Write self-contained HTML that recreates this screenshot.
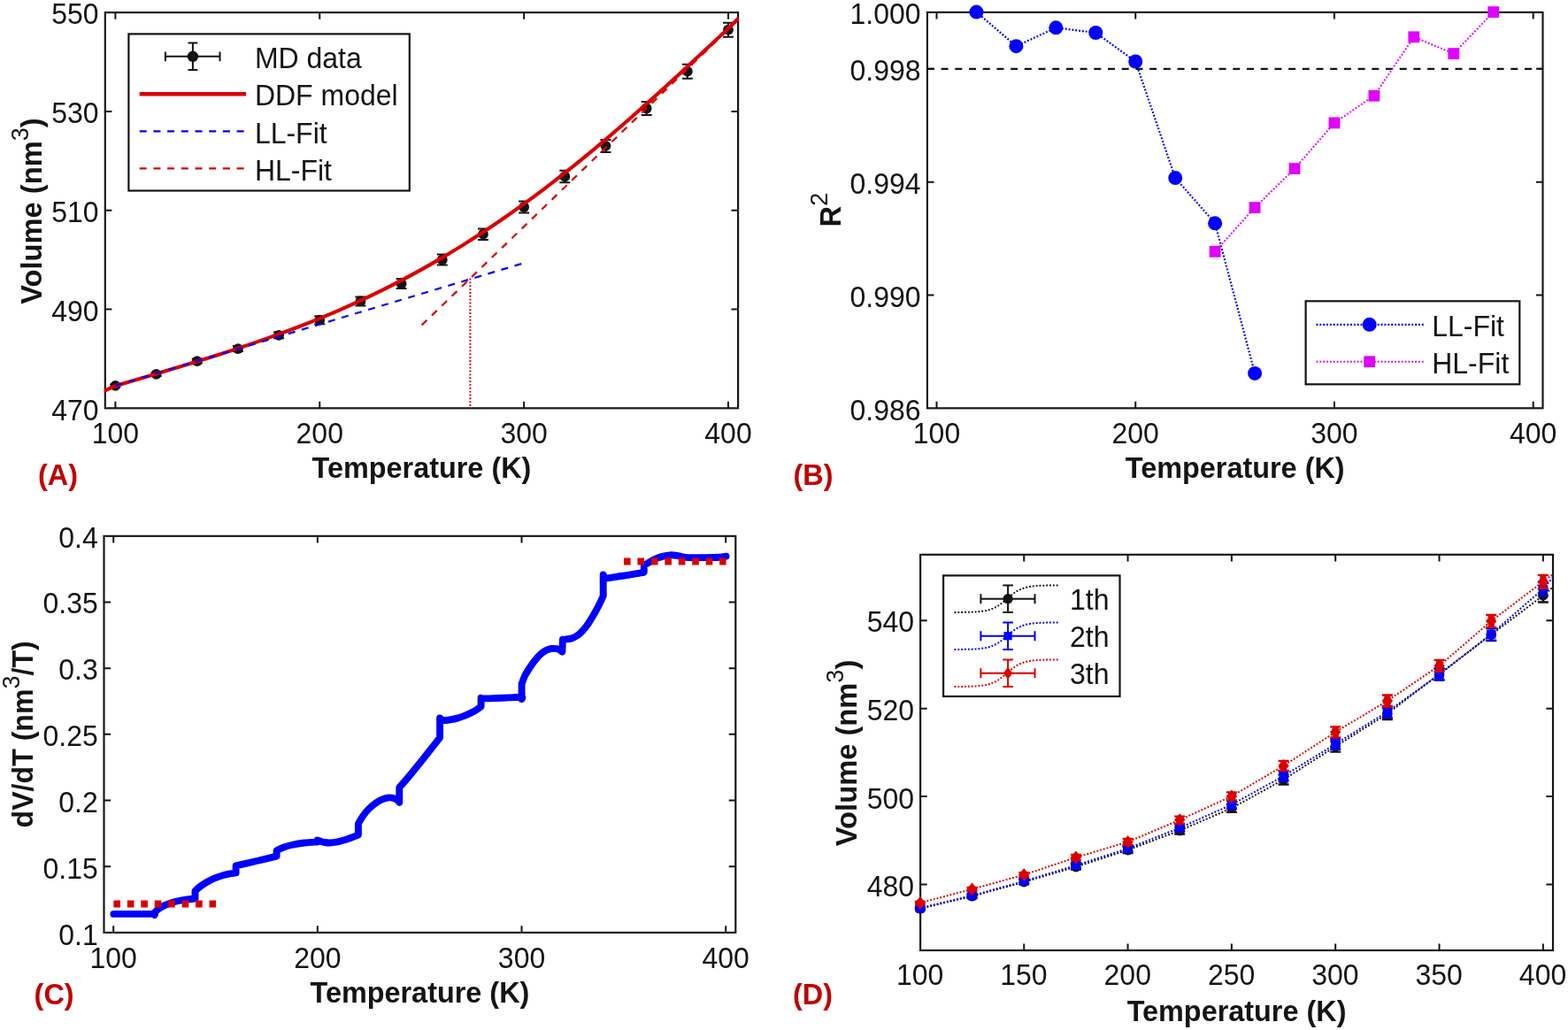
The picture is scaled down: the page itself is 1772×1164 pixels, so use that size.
<!DOCTYPE html>
<html lang="en">
<head>
<meta charset="utf-8">
<title>Volume vs temperature: MD data, DDF model and linear fits</title>
<style>
html,body{margin:0;padding:0;background:#fff;}
body{width:1772px;height:1164px;overflow:hidden;}
svg{display:block;font-family:'Liberation Sans', Arial, Helvetica, sans-serif;}
</style>
</head>
<body>
<svg width="1772" height="1164" viewBox="0 0 1772 1164">
<rect width="1772" height="1164" fill="#fff"/>
<g id="panelA">
<rect x="118.8" y="14.1" width="715.3" height="447.2" fill="none" stroke="#141414" stroke-width="2.15"/>
<path d="M130.4 461.3V453.7M130.4 14.1V21.7M361.27 461.3V453.7M361.27 14.1V21.7M592.14 461.3V453.7M592.14 14.1V21.7M823.01 461.3V453.7M823.01 14.1V21.7M118.8 349.5H126.4M834.1 349.5H826.5M118.8 237.7H126.4M834.1 237.7H826.5M118.8 125.9H126.4M834.1 125.9H826.5" fill="none" stroke="#141414" stroke-width="2.0"/>
<clipPath id="clipA"><rect x="117.6" y="12.9" width="717.7" height="449.6"/></clipPath>
<g clip-path="url(#clipA)">
<path d="M531.4 314.6V461.3" stroke="#db0000" stroke-width="2" stroke-dasharray="1.9 1.95" fill="none"/>
<path d="M130.4 434.3V437.3M124.4 434.3H136.4M124.4 437.3H136.4" fill="none" stroke="#141414" stroke-width="2.0"/>
<circle cx="130.4" cy="435.8" r="5.9" fill="#141414"/>
<path d="M176.57 420.9V424.9M170.57 420.9H182.57M170.57 424.9H182.57" fill="none" stroke="#141414" stroke-width="2.0"/>
<circle cx="176.57" cy="422.9" r="5.9" fill="#141414"/>
<path d="M222.75 405.6V410.6M216.75 405.6H228.75M216.75 410.6H228.75" fill="none" stroke="#141414" stroke-width="2.0"/>
<circle cx="222.75" cy="408.1" r="5.9" fill="#141414"/>
<path d="M268.92 391.1V397.1M262.92 391.1H274.92M262.92 397.1H274.92" fill="none" stroke="#141414" stroke-width="2.0"/>
<circle cx="268.92" cy="394.1" r="5.9" fill="#141414"/>
<path d="M315.1 375.3V382.3M309.1 375.3H321.1M309.1 382.3H321.1" fill="none" stroke="#141414" stroke-width="2.0"/>
<circle cx="315.1" cy="378.8" r="5.9" fill="#141414"/>
<path d="M361.27 357.2V366.2M355.27 357.2H367.27M355.27 366.2H367.27" fill="none" stroke="#141414" stroke-width="2.0"/>
<circle cx="361.27" cy="361.7" r="5.9" fill="#141414"/>
<path d="M407.44 335.4V345.4M401.44 335.4H413.44M401.44 345.4H413.44" fill="none" stroke="#141414" stroke-width="2.0"/>
<circle cx="407.44" cy="340.4" r="5.9" fill="#141414"/>
<path d="M453.62 315.1V326.1M447.62 315.1H459.62M447.62 326.1H459.62" fill="none" stroke="#141414" stroke-width="2.0"/>
<circle cx="453.62" cy="320.6" r="5.9" fill="#141414"/>
<path d="M499.79 287.5V299.5M493.79 287.5H505.79M493.79 299.5H505.79" fill="none" stroke="#141414" stroke-width="2.0"/>
<circle cx="499.79" cy="293.5" r="5.9" fill="#141414"/>
<path d="M545.97 258.4V271M539.97 258.4H551.97M539.97 271H551.97" fill="none" stroke="#141414" stroke-width="2.0"/>
<circle cx="545.97" cy="264.7" r="5.9" fill="#141414"/>
<path d="M592.14 227.5V240.5M586.14 227.5H598.14M586.14 240.5H598.14" fill="none" stroke="#141414" stroke-width="2.0"/>
<circle cx="592.14" cy="234" r="5.9" fill="#141414"/>
<path d="M638.31 192.7V206.3M632.31 192.7H644.31M632.31 206.3H644.31" fill="none" stroke="#141414" stroke-width="2.0"/>
<circle cx="638.31" cy="199.5" r="5.9" fill="#141414"/>
<path d="M684.49 157.9V171.9M678.49 157.9H690.49M678.49 171.9H690.49" fill="none" stroke="#141414" stroke-width="2.0"/>
<circle cx="684.49" cy="164.9" r="5.9" fill="#141414"/>
<path d="M730.66 115V130M724.66 115H736.66M724.66 130H736.66" fill="none" stroke="#141414" stroke-width="2.0"/>
<circle cx="730.66" cy="122.5" r="5.9" fill="#141414"/>
<path d="M776.84 72.7V88.7M770.84 72.7H782.84M770.84 88.7H782.84" fill="none" stroke="#141414" stroke-width="2.0"/>
<circle cx="776.84" cy="80.7" r="5.9" fill="#141414"/>
<path d="M823.01 25.7V41.7M817.01 25.7H829.01M817.01 41.7H829.01" fill="none" stroke="#141414" stroke-width="2.0"/>
<circle cx="823.01" cy="33.7" r="5.9" fill="#141414"/>
<path d="M118 441.8C119.1 441.27 122.56 439.53 124.63 438.6C126.69 437.67 125.59 437.77 130.4 436.22C135.21 434.67 145.79 431.62 153.49 429.32C161.18 427.03 168.88 424.75 176.57 422.45C184.27 420.15 191.97 417.86 199.66 415.53C207.36 413.2 215.05 410.87 222.75 408.49C230.44 406.11 238.14 403.71 245.84 401.25C253.53 398.79 261.23 396.31 268.92 393.75C276.62 391.19 284.31 388.59 292.01 385.92C299.7 383.24 307.4 380.51 315.1 377.69C322.79 374.87 330.49 371.98 338.18 369C345.88 366.02 353.57 362.96 361.27 359.8C368.97 356.63 376.66 353.38 384.36 350.02C392.05 346.66 399.75 343.21 407.44 339.63C415.14 336.06 422.84 332.38 430.53 328.58C438.23 324.78 445.92 320.87 453.62 316.83C461.31 312.8 469.01 308.64 476.71 304.36C484.4 300.07 492.1 295.66 499.79 291.12C507.49 286.58 515.18 281.92 522.88 277.12C530.57 272.32 538.27 267.39 545.97 262.33C553.66 257.27 561.36 252.08 569.05 246.75C576.75 241.43 584.44 235.98 592.14 230.4C599.84 224.82 607.53 219.11 615.23 213.28C622.92 207.45 630.62 201.49 638.31 195.42C646.01 189.35 653.71 183.15 661.4 176.85C669.1 170.55 676.79 164.13 684.49 157.62C692.18 151.1 699.88 144.48 707.57 137.77C715.27 131.07 722.97 124.26 730.66 117.39C738.36 110.51 746.05 103.55 753.75 96.53C761.44 89.52 769.14 82.42 776.84 75.3C784.53 68.17 792.23 60.98 799.92 53.79C807.62 46.59 817.21 37.68 823.01 32.11C828.81 26.55 832.75 22.34 834.7 20.39" stroke="#db0000" stroke-width="4.1" fill="none" stroke-linecap="butt"/>
<path d="M130.4 435.8L592.14 297.2" stroke="#0000ff" stroke-width="2.2" stroke-dasharray="8 7.7" fill="none"/>
<path d="M476.71 367.36L834.1 22.62" stroke="#db0000" stroke-width="2.2" stroke-dasharray="8 7.7" fill="none"/>
</g>
<text transform="translate(130.4 500.7) scale(1 1.035)" text-anchor="middle" font-size="32" fill="#141414">100</text>
<text transform="translate(361.27 500.7) scale(1 1.035)" text-anchor="middle" font-size="32" fill="#141414">200</text>
<text transform="translate(592.14 500.7) scale(1 1.035)" text-anchor="middle" font-size="32" fill="#141414">300</text>
<text transform="translate(823.01 500.7) scale(1 1.035)" text-anchor="middle" font-size="32" fill="#141414">400</text>
<text transform="translate(111.6 475.1) scale(1 1.035)" text-anchor="end" font-size="32" fill="#141414">470</text>
<text transform="translate(111.6 363.05) scale(1 1.035)" text-anchor="end" font-size="32" fill="#141414">490</text>
<text transform="translate(111.6 251) scale(1 1.035)" text-anchor="end" font-size="32" fill="#141414">510</text>
<text transform="translate(111.6 138.95) scale(1 1.035)" text-anchor="end" font-size="32" fill="#141414">530</text>
<text transform="translate(111.6 26.9) scale(1 1.035)" text-anchor="end" font-size="32" fill="#141414">550</text>
<text transform="translate(476.45 540.3) scale(1 1.035)" text-anchor="middle" font-size="32.4" font-weight="bold" fill="#141414">Temperature (K)</text>
<text transform="translate(46.8 238.6) rotate(-90) scale(1 1.035)" text-anchor="middle" font-size="32.699999999999996" font-weight="bold" fill="#141414">Volume (nm<tspan dy="-14.5" font-size="27" font-weight="normal">3</tspan><tspan dy="14.5">)</tspan></text>
<text transform="translate(43 547.6) scale(1 1.035)" text-anchor="start" font-size="32.4" font-weight="bold" fill="#c00000">(A)</text>
<rect x="145.4" y="38.4" width="317.4" height="177.1" fill="#fff" stroke="#141414" stroke-width="2.2"/>
<path d="M186.9 63.8H248.5M186.9 58.4V69.2M248.5 58.4V69.2M217.9 48.6V78.9M212.5 48.6H223.3M212.5 78.9H223.3" stroke="#141414" stroke-width="2" fill="none"/>
<circle cx="217.9" cy="63.8" r="6.2" fill="#141414"/>
<path d="M157.7 106.3H278.1" stroke="#db0000" stroke-width="4.4" fill="none"/>
<path d="M157.7 148.4H276" stroke="#0000ff" stroke-width="2.2" stroke-dasharray="8 7.7" fill="none"/>
<path d="M157.7 190.3H276" stroke="#db0000" stroke-width="2.2" stroke-dasharray="8 7.7" fill="none"/>
<text transform="translate(287.9 76.9) scale(1 1.035)" text-anchor="start" font-size="32" fill="#141414">MD data</text>
<text transform="translate(287.9 119.2) scale(1 1.035)" text-anchor="start" font-size="32" fill="#141414">DDF model</text>
<text transform="translate(287.9 161.5) scale(1 1.035)" text-anchor="start" font-size="32" fill="#141414">LL-Fit</text>
<text transform="translate(287.9 203.8) scale(1 1.035)" text-anchor="start" font-size="32" fill="#141414">HL-Fit</text>
</g>
<g id="panelB">
<path d="M1047.9 77.81H1743.5" stroke="#141414" stroke-width="2.2" stroke-dasharray="8 7.7" fill="none"/>
<rect x="1047.9" y="13.9" width="695.6" height="447.4" fill="none" stroke="#141414" stroke-width="2.15"/>
<path d="M1058.5 461.3V453.7M1058.5 13.9V21.5M1283.23 461.3V453.7M1283.23 13.9V21.5M1507.96 461.3V453.7M1507.96 13.9V21.5M1732.69 461.3V453.7M1732.69 13.9V21.5M1047.9 333.47H1055.5M1743.5 333.47H1735.9M1047.9 205.64H1055.5M1743.5 205.64H1735.9M1047.9 77.81H1055.5M1743.5 77.81H1735.9" fill="none" stroke="#141414" stroke-width="2.0"/>
<path d="M1103.45 13.6L1148.39 52.2L1193.34 31.3L1238.28 37L1283.23 69.5L1328.18 201.1L1373.12 252.3L1418.07 421.9" stroke="#0000ff" stroke-width="2.2" stroke-dasharray="1.9 1.95" fill="none"/>
<path d="M1373.12 284.3L1418.07 234.6L1463.01 190.6L1507.96 138.9L1552.91 108.2L1597.85 41.8L1642.8 60.6L1687.74 13.6" stroke="#e000ff" stroke-width="2" stroke-dasharray="1.9 1.95" fill="none"/>
<circle cx="1103.45" cy="13.6" r="8" fill="#0000ff"/>
<circle cx="1148.39" cy="52.2" r="8" fill="#0000ff"/>
<circle cx="1193.34" cy="31.3" r="8" fill="#0000ff"/>
<circle cx="1238.28" cy="37" r="8" fill="#0000ff"/>
<circle cx="1283.23" cy="69.5" r="8" fill="#0000ff"/>
<circle cx="1328.18" cy="201.1" r="8" fill="#0000ff"/>
<circle cx="1373.12" cy="252.3" r="8" fill="#0000ff"/>
<circle cx="1418.07" cy="421.9" r="8" fill="#0000ff"/>
<rect x="1366.72" y="277.9" width="12.8" height="12.8" fill="#e000ff"/>
<rect x="1411.67" y="228.2" width="12.8" height="12.8" fill="#e000ff"/>
<rect x="1456.61" y="184.2" width="12.8" height="12.8" fill="#e000ff"/>
<rect x="1501.56" y="132.5" width="12.8" height="12.8" fill="#e000ff"/>
<rect x="1546.51" y="101.8" width="12.8" height="12.8" fill="#e000ff"/>
<rect x="1591.45" y="35.4" width="12.8" height="12.8" fill="#e000ff"/>
<rect x="1636.4" y="54.2" width="12.8" height="12.8" fill="#e000ff"/>
<rect x="1681.34" y="7.2" width="12.8" height="12.8" fill="#e000ff"/>
<text transform="translate(1058.5 500.7) scale(1 1.035)" text-anchor="middle" font-size="32" fill="#141414">100</text>
<text transform="translate(1283.23 500.7) scale(1 1.035)" text-anchor="middle" font-size="32" fill="#141414">200</text>
<text transform="translate(1507.96 500.7) scale(1 1.035)" text-anchor="middle" font-size="32" fill="#141414">300</text>
<text transform="translate(1732.69 500.7) scale(1 1.035)" text-anchor="middle" font-size="32" fill="#141414">400</text>
<text transform="translate(1040.6 475.1) scale(1 1.035)" text-anchor="end" font-size="32" fill="#141414">0.986</text>
<text transform="translate(1040.6 346.99) scale(1 1.035)" text-anchor="end" font-size="32" fill="#141414">0.990</text>
<text transform="translate(1040.6 218.87) scale(1 1.035)" text-anchor="end" font-size="32" fill="#141414">0.994</text>
<text transform="translate(1040.6 90.76) scale(1 1.035)" text-anchor="end" font-size="32" fill="#141414">0.998</text>
<text transform="translate(1040.6 26.7) scale(1 1.035)" text-anchor="end" font-size="32" fill="#141414">1.000</text>
<text transform="translate(1395.7 540.3) scale(1 1.035)" text-anchor="middle" font-size="32.4" font-weight="bold" fill="#141414">Temperature (K)</text>
<text transform="translate(949.6 237.1) rotate(-90) scale(1 1.035)" text-anchor="middle" font-size="32.699999999999996" font-weight="bold" fill="#141414">R<tspan dy="-14.5" font-size="27" font-weight="normal">2</tspan></text>
<text transform="translate(896.5 547.6) scale(1 1.035)" text-anchor="start" font-size="32.4" font-weight="bold" fill="#c00000">(B)</text>
<rect x="1475.6" y="340.3" width="241.7" height="94" fill="#fff" stroke="#141414" stroke-width="2.2"/>
<path d="M1487.5 366.8H1609.7" stroke="#0000ff" stroke-width="2.2" stroke-dasharray="1.9 1.95" fill="none"/>
<circle cx="1547.7" cy="366.8" r="8" fill="#0000ff"/>
<path d="M1487.5 408.7H1609.7" stroke="#e000ff" stroke-width="2" stroke-dasharray="1.9 1.95" fill="none"/>
<rect x="1541.3" y="402.3" width="12.8" height="12.8" fill="#e000ff"/>
<text transform="translate(1618.2 379.6) scale(1 1.035)" text-anchor="start" font-size="32" fill="#141414">LL-Fit</text>
<text transform="translate(1618.2 421.9) scale(1 1.035)" text-anchor="start" font-size="32" fill="#141414">HL-Fit</text>
</g>
<g id="panelC">
<rect x="117.5" y="605.8" width="713.8" height="448.1" fill="none" stroke="#141414" stroke-width="2.15"/>
<path d="M128.2 1053.9V1046.3M128.2 605.8V613.4M358.87 1053.9V1046.3M358.87 605.8V613.4M589.54 1053.9V1046.3M589.54 605.8V613.4M820.21 1053.9V1046.3M820.21 605.8V613.4M117.5 979.22H125.1M831.3 979.22H823.7M117.5 904.53H125.1M831.3 904.53H823.7M117.5 829.85H125.1M831.3 829.85H823.7M117.5 755.17H125.1M831.3 755.17H823.7M117.5 680.48H125.1M831.3 680.48H823.7" fill="none" stroke="#141414" stroke-width="2.0"/>
<path d="M128.4 1032.9C132 1032.9 142.65 1032.9 150 1032.9C157.35 1032.9 168.42 1032.72 172.5 1032.9C176.58 1033.08 174.17 1033.82 174.5 1034L174.7 1031.5C175.4 1030.82 177.02 1028.78 178.9 1027.4C180.78 1026.02 182.87 1024.6 186 1023.2C189.13 1021.8 193.7 1020.08 197.7 1019C201.7 1017.92 206.2 1017.28 210 1016.7C213.8 1016.12 218.75 1015.7 220.5 1015.5L220.5 1007C221.42 1006.17 223.53 1003.83 226 1002C228.47 1000.17 232.3 997.7 235.3 996C238.3 994.3 241.22 992.93 244 991.8C246.78 990.67 249.33 989.93 252 989.2C254.67 988.47 257.57 987.87 260 987.4C262.43 986.93 265.5 986.57 266.6 986.4L266.6 978.4C270.5 977.5 282.33 974.8 290 973C297.67 971.2 308.83 968.5 312.6 967.6L312.6 961.2C313.83 960.63 317.22 958.83 320 957.8C322.78 956.77 325.32 955.88 329.3 955C333.28 954.12 339 953.08 343.9 952.5C348.8 951.92 356.23 951.67 358.7 951.5L358.7 949.4C359.25 949.6 360.62 950.17 362 950.6C363.38 951.03 365.15 951.68 367 952C368.85 952.32 370.93 952.55 373.1 952.5C375.27 952.45 377.57 952.15 380 951.7C382.43 951.25 385.03 950.58 387.7 949.8C390.37 949.02 393.13 948.03 396 947C398.87 945.97 403.42 944.17 404.9 943.6L404.9 931C405.42 930.08 406.68 927.57 408 925.5C409.32 923.43 411.13 920.68 412.8 918.6C414.47 916.52 416.27 914.67 418 913C419.73 911.33 421.2 910.07 423.2 908.6C425.2 907.13 427.6 905.35 430 904.2C432.4 903.05 435.43 902.13 437.6 901.7C439.77 901.27 441.27 901.32 443 901.6C444.73 901.88 446.62 902.53 448 903.4C449.38 904.27 450.75 906.23 451.3 906.8L451.3 889.9C453.08 887.85 458.37 881.92 462 877.6C465.63 873.28 469.1 868.97 473.1 864C477.1 859.03 482 852.87 486 847.8C490 842.73 495.25 835.97 497.1 833.6L497.1 811.5C497.58 811.85 498.85 813.18 500 813.6C501.15 814.02 502.33 814.07 504 814C505.67 813.93 507.85 813.6 510 813.2C512.15 812.8 514.4 812.33 516.9 811.6C519.4 810.87 522.22 809.9 525 808.8C527.78 807.7 531.27 806.17 533.6 805C535.93 803.83 537.33 802.87 539 801.8C540.67 800.73 542.83 799.13 543.6 798.6L543.6 788.8C544 788.9 543.27 789.37 546 789.4C548.73 789.43 555.17 789.17 560 789C564.83 788.83 570.13 788.6 575 788.4C579.87 788.2 586.77 787.53 589.2 787.8C591.63 788.07 589.53 789.63 589.6 790L589.6 773C590.17 771.5 591.53 767 593 764C594.47 761 596.57 757.83 598.4 755C600.23 752.17 601.97 749.57 604 747C606.03 744.43 608.43 741.6 610.6 739.6C612.77 737.6 614.9 736.1 617 735C619.1 733.9 621.2 733.3 623.2 733C625.2 732.7 627.45 732.97 629 733.2C630.55 733.43 631.43 733.83 632.5 734.4C633.57 734.97 634.92 736.23 635.4 736.6L635.9 722.8C636.58 722.73 638.43 722.6 640 722.4C641.57 722.2 643.63 722.07 645.3 721.6C646.97 721.13 648.42 720.47 650 719.6C651.58 718.73 653.22 717.73 654.8 716.4C656.38 715.07 657.92 713.43 659.5 711.6C661.08 709.77 662.72 707.67 664.3 705.4C665.88 703.13 667.42 700.63 669 698C670.58 695.37 672.3 692.37 673.8 689.6C675.3 686.83 676.68 684.07 678 681.4C679.32 678.73 681.08 674.9 681.7 673.6L681.7 649.4C682 650.07 682.62 652.73 683.5 653.4C684.38 654.07 683.88 653.8 687 653.4C690.12 653 697.7 651.7 702.2 651C706.7 650.3 710.05 649.83 714 649.2C717.95 648.57 723.6 647.67 725.9 647.2C728.2 646.73 727.48 646.53 727.8 646.4L727.8 639.4C728.33 639 729.47 638 731 637C732.53 636 735 634.47 737 633.4C739 632.33 740.9 631.4 743 630.6C745.1 629.8 747.6 629.1 749.6 628.6C751.6 628.1 753.42 627.82 755 627.6C756.58 627.38 757.43 627.25 759.1 627.3C760.77 627.35 762.9 627.53 765 627.9C767.1 628.27 769.53 629.13 771.7 629.5C773.87 629.87 773.78 630 778 630.1C782.22 630.2 791.2 630.17 797 630.1C802.8 630.03 808.88 629.93 812.8 629.7C816.72 629.47 819.22 628.87 820.5 628.7" stroke="#0000ff" stroke-width="7.9" fill="none" stroke-linecap="round" stroke-linejoin="round"/>
<path d="M128.4 1021.4H244" stroke="#db0000" stroke-width="8" stroke-dasharray="7.6 7.85" fill="none"/>
<path d="M705 634.5H820.6" stroke="#db0000" stroke-width="8" stroke-dasharray="7.6 7.85" fill="none"/>
<text transform="translate(128.2 1093.6) scale(1 1.035)" text-anchor="middle" font-size="32" fill="#141414">100</text>
<text transform="translate(358.87 1093.6) scale(1 1.035)" text-anchor="middle" font-size="32" fill="#141414">200</text>
<text transform="translate(589.54 1093.6) scale(1 1.035)" text-anchor="middle" font-size="32" fill="#141414">300</text>
<text transform="translate(820.21 1093.6) scale(1 1.035)" text-anchor="middle" font-size="32" fill="#141414">400</text>
<text transform="translate(110.8 1067.7) scale(1 1.035)" text-anchor="end" font-size="32" fill="#141414">0.1</text>
<text transform="translate(110.8 992.85) scale(1 1.035)" text-anchor="end" font-size="32" fill="#141414">0.15</text>
<text transform="translate(110.8 918) scale(1 1.035)" text-anchor="end" font-size="32" fill="#141414">0.2</text>
<text transform="translate(110.8 843.15) scale(1 1.035)" text-anchor="end" font-size="32" fill="#141414">0.25</text>
<text transform="translate(110.8 768.3) scale(1 1.035)" text-anchor="end" font-size="32" fill="#141414">0.3</text>
<text transform="translate(110.8 693.45) scale(1 1.035)" text-anchor="end" font-size="32" fill="#141414">0.35</text>
<text transform="translate(110.8 618.6) scale(1 1.035)" text-anchor="end" font-size="32" fill="#141414">0.4</text>
<text transform="translate(474.4 1132.6) scale(1 1.035)" text-anchor="middle" font-size="32.4" font-weight="bold" fill="#141414">Temperature (K)</text>
<text transform="translate(37.2 829.85) rotate(-90) scale(1 1.035)" text-anchor="middle" font-size="32.1" font-weight="bold" fill="#141414">dV/dT (nm<tspan dy="-14.5" font-size="27" font-weight="normal">3</tspan><tspan dy="14.5">/T)</tspan></text>
<text transform="translate(38.6 1134.6) scale(1 1.035)" text-anchor="start" font-size="32.4" font-weight="bold" fill="#c00000">(C)</text>
</g>
<g id="panelD">
<rect x="1040.1" y="626.8" width="714.9" height="447.2" fill="none" stroke="#141414" stroke-width="2.15"/>
<path d="M1157.23 1074V1066.4M1157.23 626.8V634.4M1274.55 1074V1066.4M1274.55 626.8V634.4M1391.88 1074V1066.4M1391.88 626.8V634.4M1509.2 1074V1066.4M1509.2 626.8V634.4M1626.53 1074V1066.4M1626.53 626.8V634.4M1743.85 1074V1066.4M1743.85 626.8V634.4M1040.1 999.47H1047.7M1755 999.47H1747.4M1040.1 900.09H1047.7M1755 900.09H1747.4M1040.1 800.71H1047.7M1755 800.71H1747.4M1040.1 701.33H1047.7M1755 701.33H1747.4" fill="none" stroke="#141414" stroke-width="2.0"/>
<clipPath id="clipD"><rect x="1031.1" y="625.6" width="725.1" height="449.6"/></clipPath>
<g clip-path="url(#clipD)">
<path d="M1039.9 1026.8L1098.56 1012.8L1157.23 996.7L1215.89 979.6L1274.55 960.6L1333.21 938.6L1391.88 913.3L1450.54 881L1509.2 843.6L1567.86 806.6L1626.53 761.8L1685.19 717.2L1743.85 673L1755 663.4" stroke="#141414" stroke-width="2" stroke-dasharray="1.9 1.95" fill="none"/>
<path d="M1039.9 1026.2L1098.56 1012L1157.23 995.9L1215.89 977.9L1274.55 958.9L1333.21 935.5L1391.88 909.3L1450.54 877L1509.2 840.8L1567.86 804.4L1626.53 762.2L1685.19 716.6L1743.85 665.6L1755 652.6" stroke="#0000ff" stroke-width="2" stroke-dasharray="1.9 1.95" fill="none"/>
<path d="M1039.9 1020.3L1098.56 1004.9L1157.23 988.6L1215.89 969L1274.55 951.4L1333.21 926.6L1391.88 899.9L1450.54 865.4L1509.2 827.3L1567.86 792L1626.53 752.4L1685.19 701.9L1743.85 657.3L1755 649" stroke="#db0000" stroke-width="2" stroke-dasharray="1.9 1.95" fill="none"/>
<path d="M1039.9 1025.3V1028.3M1033.9 1025.3H1045.9M1033.9 1028.3H1045.9" fill="none" stroke="#141414" stroke-width="2.3"/>
<circle cx="1039.9" cy="1026.8" r="5.8" fill="#141414"/>
<path d="M1098.56 1010.8V1014.8M1092.56 1010.8H1104.56M1092.56 1014.8H1104.56" fill="none" stroke="#141414" stroke-width="2.3"/>
<circle cx="1098.56" cy="1012.8" r="5.8" fill="#141414"/>
<path d="M1157.23 994.2V999.2M1151.23 994.2H1163.23M1151.23 999.2H1163.23" fill="none" stroke="#141414" stroke-width="2.3"/>
<circle cx="1157.23" cy="996.7" r="5.8" fill="#141414"/>
<path d="M1215.89 976.6V982.6M1209.89 976.6H1221.89M1209.89 982.6H1221.89" fill="none" stroke="#141414" stroke-width="2.3"/>
<circle cx="1215.89" cy="979.6" r="5.8" fill="#141414"/>
<path d="M1274.55 957.1V964.1M1268.55 957.1H1280.55M1268.55 964.1H1280.55" fill="none" stroke="#141414" stroke-width="2.3"/>
<circle cx="1274.55" cy="960.6" r="5.8" fill="#141414"/>
<path d="M1333.21 934.6V942.6M1327.21 934.6H1339.21M1327.21 942.6H1339.21" fill="none" stroke="#141414" stroke-width="2.3"/>
<circle cx="1333.21" cy="938.6" r="5.8" fill="#141414"/>
<path d="M1391.88 908.8V917.8M1385.88 908.8H1397.88M1385.88 917.8H1397.88" fill="none" stroke="#141414" stroke-width="2.3"/>
<circle cx="1391.88" cy="913.3" r="5.8" fill="#141414"/>
<path d="M1450.54 875.5V886.5M1444.54 875.5H1456.54M1444.54 886.5H1456.54" fill="none" stroke="#141414" stroke-width="2.3"/>
<circle cx="1450.54" cy="881" r="5.8" fill="#141414"/>
<path d="M1509.2 837.6V849.6M1503.2 837.6H1515.2M1503.2 849.6H1515.2" fill="none" stroke="#141414" stroke-width="2.3"/>
<circle cx="1509.2" cy="843.6" r="5.8" fill="#141414"/>
<path d="M1567.86 800.1V813.1M1561.86 800.1H1573.86M1561.86 813.1H1573.86" fill="none" stroke="#141414" stroke-width="2.3"/>
<circle cx="1567.86" cy="806.6" r="5.8" fill="#141414"/>
<path d="M1626.53 755.3V768.3M1620.53 755.3H1632.53M1620.53 768.3H1632.53" fill="none" stroke="#141414" stroke-width="2.3"/>
<circle cx="1626.53" cy="761.8" r="5.8" fill="#141414"/>
<path d="M1685.19 710.2V724.2M1679.19 710.2H1691.19M1679.19 724.2H1691.19" fill="none" stroke="#141414" stroke-width="2.3"/>
<circle cx="1685.19" cy="717.2" r="5.8" fill="#141414"/>
<path d="M1743.85 665.5V680.5M1737.85 665.5H1749.85M1737.85 680.5H1749.85" fill="none" stroke="#141414" stroke-width="2.3"/>
<circle cx="1743.85" cy="673" r="5.8" fill="#141414"/>
<path d="M1039.9 1024.7V1027.7M1033.9 1024.7H1045.9M1033.9 1027.7H1045.9" fill="none" stroke="#0000ff" stroke-width="2.3"/>
<rect x="1034.7" y="1021" width="10.4" height="10.4" rx="1.2" fill="#0000ff"/>
<path d="M1098.56 1010V1014M1092.56 1010H1104.56M1092.56 1014H1104.56" fill="none" stroke="#0000ff" stroke-width="2.3"/>
<rect x="1093.36" y="1006.8" width="10.4" height="10.4" rx="1.2" fill="#0000ff"/>
<path d="M1157.23 993.4V998.4M1151.23 993.4H1163.23M1151.23 998.4H1163.23" fill="none" stroke="#0000ff" stroke-width="2.3"/>
<rect x="1152.03" y="990.7" width="10.4" height="10.4" rx="1.2" fill="#0000ff"/>
<path d="M1215.89 974.9V980.9M1209.89 974.9H1221.89M1209.89 980.9H1221.89" fill="none" stroke="#0000ff" stroke-width="2.3"/>
<rect x="1210.69" y="972.7" width="10.4" height="10.4" rx="1.2" fill="#0000ff"/>
<path d="M1274.55 955.4V962.4M1268.55 955.4H1280.55M1268.55 962.4H1280.55" fill="none" stroke="#0000ff" stroke-width="2.3"/>
<rect x="1269.35" y="953.7" width="10.4" height="10.4" rx="1.2" fill="#0000ff"/>
<path d="M1333.21 931.5V939.5M1327.21 931.5H1339.21M1327.21 939.5H1339.21" fill="none" stroke="#0000ff" stroke-width="2.3"/>
<rect x="1328.01" y="930.3" width="10.4" height="10.4" rx="1.2" fill="#0000ff"/>
<path d="M1391.88 904.8V913.8M1385.88 904.8H1397.88M1385.88 913.8H1397.88" fill="none" stroke="#0000ff" stroke-width="2.3"/>
<rect x="1386.67" y="904.1" width="10.4" height="10.4" rx="1.2" fill="#0000ff"/>
<path d="M1450.54 871.5V882.5M1444.54 871.5H1456.54M1444.54 882.5H1456.54" fill="none" stroke="#0000ff" stroke-width="2.3"/>
<rect x="1445.34" y="871.8" width="10.4" height="10.4" rx="1.2" fill="#0000ff"/>
<path d="M1509.2 834.8V846.8M1503.2 834.8H1515.2M1503.2 846.8H1515.2" fill="none" stroke="#0000ff" stroke-width="2.3"/>
<rect x="1504" y="835.6" width="10.4" height="10.4" rx="1.2" fill="#0000ff"/>
<path d="M1567.86 797.9V810.9M1561.86 797.9H1573.86M1561.86 810.9H1573.86" fill="none" stroke="#0000ff" stroke-width="2.3"/>
<rect x="1562.66" y="799.2" width="10.4" height="10.4" rx="1.2" fill="#0000ff"/>
<path d="M1626.53 755.7V768.7M1620.53 755.7H1632.53M1620.53 768.7H1632.53" fill="none" stroke="#0000ff" stroke-width="2.3"/>
<rect x="1621.33" y="757" width="10.4" height="10.4" rx="1.2" fill="#0000ff"/>
<path d="M1685.19 709.6V723.6M1679.19 709.6H1691.19M1679.19 723.6H1691.19" fill="none" stroke="#0000ff" stroke-width="2.3"/>
<rect x="1679.99" y="711.4" width="10.4" height="10.4" rx="1.2" fill="#0000ff"/>
<path d="M1743.85 658.1V673.1M1737.85 658.1H1749.85M1737.85 673.1H1749.85" fill="none" stroke="#0000ff" stroke-width="2.3"/>
<rect x="1738.65" y="660.4" width="10.4" height="10.4" rx="1.2" fill="#0000ff"/>
<path d="M1039.9 1018.8V1021.8M1033.9 1018.8H1045.9M1033.9 1021.8H1045.9" fill="none" stroke="#db0000" stroke-width="2.3"/>
<path d="M1039.9 1012.9L1046.1 1020.3L1039.9 1027.7L1033.7 1020.3Z" fill="#db0000"/>
<path d="M1098.56 1002.9V1006.9M1092.56 1002.9H1104.56M1092.56 1006.9H1104.56" fill="none" stroke="#db0000" stroke-width="2.3"/>
<path d="M1098.56 997.5L1104.76 1004.9L1098.56 1012.3L1092.36 1004.9Z" fill="#db0000"/>
<path d="M1157.23 986.1V991.1M1151.23 986.1H1163.23M1151.23 991.1H1163.23" fill="none" stroke="#db0000" stroke-width="2.3"/>
<path d="M1157.23 981.2L1163.43 988.6L1157.23 996L1151.03 988.6Z" fill="#db0000"/>
<path d="M1215.89 966V972M1209.89 966H1221.89M1209.89 972H1221.89" fill="none" stroke="#db0000" stroke-width="2.3"/>
<path d="M1215.89 961.6L1222.09 969L1215.89 976.4L1209.69 969Z" fill="#db0000"/>
<path d="M1274.55 947.9V954.9M1268.55 947.9H1280.55M1268.55 954.9H1280.55" fill="none" stroke="#db0000" stroke-width="2.3"/>
<path d="M1274.55 944L1280.75 951.4L1274.55 958.8L1268.35 951.4Z" fill="#db0000"/>
<path d="M1333.21 922.6V930.6M1327.21 922.6H1339.21M1327.21 930.6H1339.21" fill="none" stroke="#db0000" stroke-width="2.3"/>
<rect x="1329.61" y="922.6" width="7.2" height="8" fill="#db0000"/>
<path d="M1333.21 919.2L1339.41 926.6L1333.21 934L1327.01 926.6Z" fill="#db0000"/>
<path d="M1391.88 895.4V904.4M1385.88 895.4H1397.88M1385.88 904.4H1397.88" fill="none" stroke="#db0000" stroke-width="2.3"/>
<rect x="1388.28" y="895.4" width="7.2" height="9" fill="#db0000"/>
<path d="M1391.88 892.5L1398.08 899.9L1391.88 907.3L1385.67 899.9Z" fill="#db0000"/>
<path d="M1450.54 859.9V870.9M1444.54 859.9H1456.54M1444.54 870.9H1456.54" fill="none" stroke="#db0000" stroke-width="2.3"/>
<rect x="1446.94" y="859.9" width="7.2" height="11" fill="#db0000"/>
<path d="M1450.54 858L1456.74 865.4L1450.54 872.8L1444.34 865.4Z" fill="#db0000"/>
<path d="M1509.2 821.3V833.3M1503.2 821.3H1515.2M1503.2 833.3H1515.2" fill="none" stroke="#db0000" stroke-width="2.3"/>
<rect x="1505.6" y="821.3" width="7.2" height="12" fill="#db0000"/>
<path d="M1509.2 819.9L1515.4 827.3L1509.2 834.7L1503 827.3Z" fill="#db0000"/>
<path d="M1567.86 785.5V798.5M1561.86 785.5H1573.86M1561.86 798.5H1573.86" fill="none" stroke="#db0000" stroke-width="2.3"/>
<rect x="1564.26" y="785.5" width="7.2" height="13" fill="#db0000"/>
<path d="M1567.86 784.6L1574.06 792L1567.86 799.4L1561.66 792Z" fill="#db0000"/>
<path d="M1626.53 745.9V758.9M1620.53 745.9H1632.53M1620.53 758.9H1632.53" fill="none" stroke="#db0000" stroke-width="2.3"/>
<rect x="1622.93" y="745.9" width="7.2" height="13" fill="#db0000"/>
<path d="M1626.53 745L1632.73 752.4L1626.53 759.8L1620.33 752.4Z" fill="#db0000"/>
<path d="M1685.19 694.9V708.9M1679.19 694.9H1691.19M1679.19 708.9H1691.19" fill="none" stroke="#db0000" stroke-width="2.3"/>
<rect x="1681.59" y="694.9" width="7.2" height="14" fill="#db0000"/>
<path d="M1685.19 694.5L1691.39 701.9L1685.19 709.3L1678.99 701.9Z" fill="#db0000"/>
<path d="M1743.85 649.8V664.8M1737.85 649.8H1749.85M1737.85 664.8H1749.85" fill="none" stroke="#db0000" stroke-width="2.3"/>
<rect x="1740.25" y="649.8" width="7.2" height="15" fill="#db0000"/>
<path d="M1743.85 649.9L1750.05 657.3L1743.85 664.7L1737.65 657.3Z" fill="#db0000"/>
</g>
<text transform="translate(1039.6 1113) scale(1 1.035)" text-anchor="middle" font-size="32" fill="#141414">100</text>
<text transform="translate(1156.93 1113) scale(1 1.035)" text-anchor="middle" font-size="32" fill="#141414">150</text>
<text transform="translate(1274.25 1113) scale(1 1.035)" text-anchor="middle" font-size="32" fill="#141414">200</text>
<text transform="translate(1391.58 1113) scale(1 1.035)" text-anchor="middle" font-size="32" fill="#141414">250</text>
<text transform="translate(1508.9 1113) scale(1 1.035)" text-anchor="middle" font-size="32" fill="#141414">300</text>
<text transform="translate(1626.23 1113) scale(1 1.035)" text-anchor="middle" font-size="32" fill="#141414">350</text>
<text transform="translate(1743.55 1113) scale(1 1.035)" text-anchor="middle" font-size="32" fill="#141414">400</text>
<text transform="translate(1033 1013.27) scale(1 1.035)" text-anchor="end" font-size="32" fill="#141414">480</text>
<text transform="translate(1033 913.56) scale(1 1.035)" text-anchor="end" font-size="32" fill="#141414">500</text>
<text transform="translate(1033 813.84) scale(1 1.035)" text-anchor="end" font-size="32" fill="#141414">520</text>
<text transform="translate(1033 714.13) scale(1 1.035)" text-anchor="end" font-size="32" fill="#141414">540</text>
<text transform="translate(1397.55 1153.6) scale(1 1.035)" text-anchor="middle" font-size="32.4" font-weight="bold" fill="#141414">Temperature (K)</text>
<text transform="translate(968.3 851) rotate(-90) scale(1 1.035)" text-anchor="middle" font-size="32.699999999999996" font-weight="bold" fill="#141414">Volume (nm<tspan dy="-14.5" font-size="27" font-weight="normal">3</tspan><tspan dy="14.5">)</tspan></text>
<text transform="translate(896 1134.6) scale(1 1.035)" text-anchor="start" font-size="32.4" font-weight="bold" fill="#c00000">(D)</text>
<rect x="1066.1" y="650.4" width="199.4" height="136.6" fill="#fff" stroke="#141414" stroke-width="2.2"/>
<path d="M1078.5 691.96L1080.48 691.96L1082.47 691.94L1084.45 691.93L1086.43 691.91L1088.42 691.89L1090.4 691.86L1092.38 691.83L1094.37 691.78L1096.35 691.73L1098.33 691.66L1100.32 691.58L1102.3 691.48L1104.28 691.35L1106.27 691.19L1108.25 690.99L1110.23 690.74L1112.22 690.44L1114.2 690.07L1116.18 689.62L1118.17 689.08L1120.15 688.43L1122.13 687.66L1124.12 686.75L1126.1 685.7L1128.08 684.5L1130.07 683.16L1132.05 681.68L1134.03 680.09L1136.02 678.41L1138 676.7L1139.98 674.99L1141.97 673.31L1143.95 671.72L1145.93 670.24L1147.92 668.9L1149.9 667.7L1151.88 666.65L1153.87 665.74L1155.85 664.97L1157.83 664.32L1159.82 663.78L1161.8 663.33L1163.78 662.96L1165.77 662.66L1167.75 662.41L1169.73 662.21L1171.72 662.05L1173.7 661.92L1175.68 661.82L1177.67 661.74L1179.65 661.67L1181.63 661.62L1183.62 661.57L1185.6 661.54L1187.58 661.51L1189.57 661.49L1191.55 661.47L1193.53 661.46L1195.52 661.44L1197.5 661.44" stroke="#141414" stroke-width="2" stroke-dasharray="1.9 1.95" fill="none"/>
<path d="M1108.4 676.7H1169.5M1108.4 671.2V682.2M1169.5 671.2V682.2M1139.1 661.4V692M1133.3 661.4H1144.8999999999999M1133.3 692H1144.8999999999999" stroke="#141414" stroke-width="2" fill="none"/>
<circle cx="1139.1" cy="676.7" r="5.6" fill="#141414"/>
<text transform="translate(1209 689.2) scale(1 1.035)" text-anchor="start" font-size="32" fill="#141414">1th</text>
<path d="M1078.5 733.96L1080.48 733.96L1082.47 733.94L1084.45 733.93L1086.43 733.91L1088.42 733.89L1090.4 733.86L1092.38 733.83L1094.37 733.78L1096.35 733.73L1098.33 733.66L1100.32 733.58L1102.3 733.48L1104.28 733.35L1106.27 733.19L1108.25 732.99L1110.23 732.74L1112.22 732.44L1114.2 732.07L1116.18 731.62L1118.17 731.08L1120.15 730.43L1122.13 729.66L1124.12 728.75L1126.1 727.7L1128.08 726.5L1130.07 725.16L1132.05 723.68L1134.03 722.09L1136.02 720.41L1138 718.7L1139.98 716.99L1141.97 715.31L1143.95 713.72L1145.93 712.24L1147.92 710.9L1149.9 709.7L1151.88 708.65L1153.87 707.74L1155.85 706.97L1157.83 706.32L1159.82 705.78L1161.8 705.33L1163.78 704.96L1165.77 704.66L1167.75 704.41L1169.73 704.21L1171.72 704.05L1173.7 703.92L1175.68 703.82L1177.67 703.74L1179.65 703.67L1181.63 703.62L1183.62 703.57L1185.6 703.54L1187.58 703.51L1189.57 703.49L1191.55 703.47L1193.53 703.46L1195.52 703.44L1197.5 703.44" stroke="#0000ff" stroke-width="2" stroke-dasharray="1.9 1.95" fill="none"/>
<path d="M1108.4 718.7H1169.5M1108.4 713.2V724.2M1169.5 713.2V724.2M1139.1 703.4V734M1133.3 703.4H1144.8999999999999M1133.3 734H1144.8999999999999" stroke="#0000ff" stroke-width="2" fill="none"/>
<rect x="1134.5" y="714.1" width="9.2" height="9.2" fill="#0000ff"/>
<text transform="translate(1209 731.2) scale(1 1.035)" text-anchor="start" font-size="32" fill="#141414">2th</text>
<path d="M1078.5 775.96L1080.48 775.96L1082.47 775.94L1084.45 775.93L1086.43 775.91L1088.42 775.89L1090.4 775.86L1092.38 775.83L1094.37 775.78L1096.35 775.73L1098.33 775.66L1100.32 775.58L1102.3 775.48L1104.28 775.35L1106.27 775.19L1108.25 774.99L1110.23 774.74L1112.22 774.44L1114.2 774.07L1116.18 773.62L1118.17 773.08L1120.15 772.43L1122.13 771.66L1124.12 770.75L1126.1 769.7L1128.08 768.5L1130.07 767.16L1132.05 765.68L1134.03 764.09L1136.02 762.41L1138 760.7L1139.98 758.99L1141.97 757.31L1143.95 755.72L1145.93 754.24L1147.92 752.9L1149.9 751.7L1151.88 750.65L1153.87 749.74L1155.85 748.97L1157.83 748.32L1159.82 747.78L1161.8 747.33L1163.78 746.96L1165.77 746.66L1167.75 746.41L1169.73 746.21L1171.72 746.05L1173.7 745.92L1175.68 745.82L1177.67 745.74L1179.65 745.67L1181.63 745.62L1183.62 745.57L1185.6 745.54L1187.58 745.51L1189.57 745.49L1191.55 745.47L1193.53 745.46L1195.52 745.44L1197.5 745.44" stroke="#db0000" stroke-width="2" stroke-dasharray="1.9 1.95" fill="none"/>
<path d="M1108.4 760.7H1169.5M1108.4 755.2V766.2M1169.5 755.2V766.2M1139.1 745.4V776M1133.3 745.4H1144.8999999999999M1133.3 776H1144.8999999999999" stroke="#db0000" stroke-width="2" fill="none"/>
<path d="M1139.1 753.7L1144.3 760.7L1139.1 767.7L1133.8999999999999 760.7Z" fill="#db0000"/>
<text transform="translate(1209 773.2) scale(1 1.035)" text-anchor="start" font-size="32" fill="#141414">3th</text>
</g>
</svg>
</body>
</html>
